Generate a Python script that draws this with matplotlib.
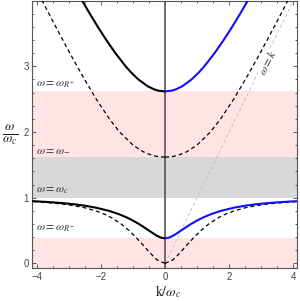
import matplotlib
matplotlib.use("Agg")
import numpy as np
import matplotlib.pyplot as plt
from matplotlib.ticker import MultipleLocator

plt.rcParams['font.family'] = ['Liberation Sans', 'DejaVu Sans']
plt.rcParams['mathtext.fontset'] = 'stix'

# =============================
# Data, k >= 0 half, mirrored for k < 0
# =============================

# modified upper branch (solid), starts at w_R+
w_up = [2.618, 2.63, 2.65, 2.70, 2.80, 2.90, 3.00, 3.20, 3.40, 3.60, 3.80, 4.00, 4.10]
k_up = [0.000, 0.208, 0.341, 0.549, 0.827, 1.041, 1.225, 1.544, 1.828, 2.092, 2.342, 2.582, 2.699]

# modified lower branch (solid), starts at w_R-
w_lo = [0.382, 0.39, 0.40, 0.42, 0.45, 0.50, 0.55, 0.60, 0.65, 0.70, 0.75, 0.80, 0.85,
        0.88, 0.90, 0.92, 0.935, 0.945, 0.95]
k_lo = [0.000, 0.107, 0.163, 0.246, 0.347, 0.500, 0.652, 0.812, 0.990, 1.193, 1.436, 1.744,
        2.165, 2.519, 2.830, 3.241, 3.659, 4.023, 4.243]

# R-wave upper branch (dashed), starts at w_-
w_rup = [1.618, 1.625, 1.63, 1.65, 1.70, 1.80, 2.00, 2.20, 2.50, 2.80, 3.10, 3.40, 3.70,
         4.00, 4.10]
k_rup = [0.000, 0.202, 0.264, 0.429, 0.679, 0.995, 1.414, 1.734, 2.141, 2.507, 2.852, 3.185,
         3.510, 3.830, 3.935]

# whistler branch (dashed)
w_wh = [0.0, 0.05, 0.10, 0.20, 0.30, 0.40, 0.50, 0.60, 0.70, 0.75, 0.80, 0.85, 0.88,
        0.90, 0.92, 0.935, 0.94, 0.945]
k_wh = [0.0, 0.235, 0.348, 0.539, 0.720, 0.909, 1.118, 1.364, 1.680, 1.887, 2.154, 2.528,
        2.847, 3.132, 3.514, 3.906, 4.068, 4.250]

# characteristic frequencies
w_Rm = 0.382
w_c = 1.0
w_m = 1.618
w_Rp = 2.618

light_k = [0.0, 4.2]

# =============================
# Plot
# =============================

fig = plt.figure(figsize=(3.0, 3.01), dpi=100)
ax = fig.add_axes([0.1057, 0.1096, 0.8853, 0.8871])

pink = '#ffe3e5'
grey = '#d8d8d8'
ax.axhspan(-1, w_Rm, color=pink, lw=0, zorder=0)
ax.axhspan(w_c, w_m, color=grey, lw=0, zorder=0)
ax.axhspan(w_m, w_Rp, color=pink, lw=0, zorder=0)

# light line
ax.plot(light_k, light_k, color='#bdbdbd', lw=0.6, dashes=(4, 3), zorder=1)
ax.axvline(0, color='#555555', lw=1.2, zorder=2)

# dashed R-wave
for w, k in [(w_rup, k_rup), (w_wh, k_wh)]:
    k = np.array(k)
    ax.plot(k, w, color='black', lw=0.9, dashes=(3.2, 2.4), zorder=3)
    ax.plot(-k, w, color='black', lw=0.9, dashes=(3.2, 2.4), zorder=3)

# solid modified branches
for w, k in [(w_up, k_up), (w_lo, k_lo)]:
    k = np.array(k)
    ax.plot(-k, w, color='black', lw=1.5, zorder=4, solid_capstyle='butt')
    ax.plot(k, w, color='#1010ff', lw=1.5, zorder=4, solid_capstyle='butt')

# labels
lab_kw = dict(fontsize=8.5, color='#333333', ha='left', va='bottom', zorder=5)
ax.text(-4.03, w_Rp + 0.02, r'$\omega = \omega_{R^{+}}$', **lab_kw)
ax.text(-4.03, w_m + 0.02, r'$\omega = \omega_{-}$', **lab_kw)
ax.text(-4.03, w_c + 0.02, r'$\omega = \omega_{c}$', **lab_kw)
ax.text(-4.03, w_Rm + 0.06, r'$\omega = \omega_{R^{-}}$', **lab_kw)
ax.text(3.22, 3.05, r'$\omega = k$', fontsize=8.5, color='#333333', rotation=64,
        ha='center', va='center', zorder=5,
        bbox=dict(facecolor='white', edgecolor='none', pad=0.3))

ax.set_xlim(-4.155, 4.125)
ax.set_ylim(-0.07, 3.995)

ax.xaxis.set_major_locator(MultipleLocator(2))
ax.xaxis.set_minor_locator(MultipleLocator(0.5))
ax.yaxis.set_major_locator(MultipleLocator(1))
ax.yaxis.set_minor_locator(MultipleLocator(0.2))
ax.tick_params(which='both', direction='in', top=True, right=True,
               labelsize=7, labelcolor='#444444', color='#444444', width=0.6)
ax.tick_params(which='major', length=3)
ax.tick_params(which='minor', length=1.6)
ax.tick_params(axis='x', pad=3)
ax.tick_params(axis='y', pad=2)
for s in ax.spines.values():
    s.set_color('#555555')
    s.set_linewidth(0.8)

fig.text(10 / 300, 1 - 135 / 301, r'$\frac{\omega}{\omega_c}$', fontsize=14,
         ha='center', va='center', color='#222222')
fig.text(168 / 300, 1 - 292 / 301, r'$\mathrm{k}/\omega_c$', fontsize=10,
         ha='center', va='center', color='#222222')

fig.savefig('out.png', dpi=100)
